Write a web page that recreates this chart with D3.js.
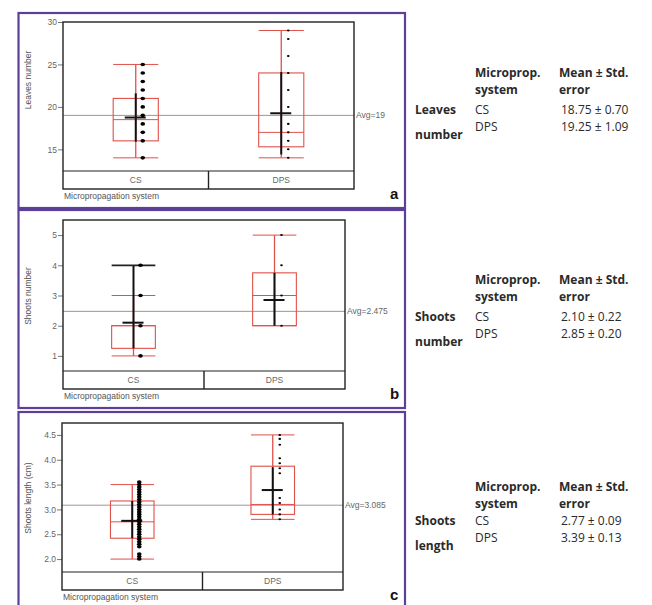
<!DOCTYPE html>
<html>
<head>
<meta charset="utf-8">
<script src="https://cdn.jsdelivr.net/npm/d3@7"></script>
<style>
  body { margin: 0; background: #fff; }
  svg { display: block; }
</style>
</head>
<body>
<svg id="chart" width="652" height="605"></svg>
<script>
// categories
const groups = ['CS', 'DPS'];

// a: leaves number
const leavesTicks = [15, 20, 25, 30];
const leavesMin = [14, 14];
const leavesQ1 = [16, 15.3];
const leavesMedian = [18.5, 17];
const leavesQ3 = [21, 24];
const leavesMax = [25, 29];
const leavesMean = [18.75, 19.25];
const leavesSdLow = [15.9, 14.4];
const leavesSdHigh = [21.6, 24.1];
const leavesDotsCS = [25, 24, 23, 22, 21, 20, 19, 18, 17, 16, 14];
const leavesDotsDPS = [29, 28, 26, 24, 22, 20, 18, 17, 16, 15, 14];
const leavesAvg = 19;

// b: shoots number
const shootsTicks = [1, 2, 3, 4, 5];
const shootsMin = [1, 2];
const shootsQ1 = [1.25, 2];
const shootsMedian = [2, 3];
const shootsQ3 = [2, 3.75];
const shootsMax = [3, 5];
const shootsMean = [2.1, 2.85];
const shootsSdLow = [1.25, 2];
const shootsSdHigh = [4, 3.75];
const shootsExtraCaps = [[4], []];
const shootsDotsCS = [4, 3, 2, 1];
const shootsDotsDPS = [5, 4, 3, 2];
const shootsAvg = 2.475;

// c: shoots length
const lengthTicks = [2.0, 2.5, 3.0, 3.5, 4.0, 4.5];
const lengthMin = [2.0, 2.8];
const lengthQ1 = [2.42, 2.9];
const lengthMedian = [2.75, 3.1];
const lengthQ3 = [3.17, 3.87];
const lengthMax = [3.5, 4.5];
const lengthMean = [2.77, 3.39];
const lengthSdLow = [2.42, 2.9];
const lengthSdHigh = [3.17, 3.85];
const lengthDotsCS = [3.55, 3.5, 3.45, 3.4, 3.35, 3.3, 3.25, 3.2, 3.15, 3.1, 3.05, 3.0, 2.95, 2.9, 2.85, 2.8, 2.75, 2.7, 2.65, 2.6, 2.55, 2.5, 2.45, 2.4, 2.35, 2.3, 2.25, 2.1, 2.05, 2.0];
const lengthDotsDPS = [4.5, 4.42, 4.3, 4.03, 3.93, 3.83, 3.73, 3.23, 3.13, 3.0, 2.9, 2.8];
const lengthAvg = 3.085;

// tables
const tableTraits = [['Leaves', 'number'], ['Shoots', 'number'], ['Shoots', 'length']];
const tableMeans = [[18.75, 19.25], [2.10, 2.85], [2.77, 3.39]];
const tableSE = [[0.70, 1.09], [0.22, 0.20], [0.09, 0.13]];

const svg = d3.select('#chart');
svg.append('rect').attr('width', 652).attr('height', 605).attr('fill', '#fff');

const panels = [
  {
    label: 'a', ylab: 'Leaves number', ticks: leavesTicks, fmt: d3.format('d'), domain: [12.45, 30],
    min: leavesMin, q1: leavesQ1, med: leavesMedian, q3: leavesQ3, max: leavesMax, mean: leavesMean,
    sdLow: leavesSdLow, sdHigh: leavesSdHigh, extra: [[], []], dots: [leavesDotsCS, leavesDotsDPS],
    avg: leavesAvg, avgText: 'Avg=19',
    frame: [18.5, 13, 405, 208], plot: {l: 63, t: 22, r: 354, b: 171, bb: 189}, ylabY: 80
  },
  {
    label: 'b', ylab: 'Shoots number', ticks: shootsTicks, fmt: d3.format('d'), domain: [0.5, 5.5],
    min: shootsMin, q1: shootsQ1, med: shootsMedian, q3: shootsQ3, max: shootsMax, mean: shootsMean,
    sdLow: shootsSdLow, sdHigh: shootsSdHigh, extra: shootsExtraCaps, dots: [shootsDotsCS, shootsDotsDPS],
    avg: shootsAvg, avgText: 'Avg=2.475',
    frame: [18.5, 210, 405, 408], plot: {l: 63, t: 220, r: 345, b: 371, bb: 389}, ylabY: 296
  },
  {
    label: 'c', ylab: 'Shoots length (cm)', ticks: lengthTicks, fmt: d3.format('.1f'), domain: [1.74, 4.74],
    min: lengthMin, q1: lengthQ1, med: lengthMedian, q3: lengthQ3, max: lengthMax, mean: lengthMean,
    sdLow: lengthSdLow, sdHigh: lengthSdHigh, extra: [[], []], dots: [lengthDotsCS, lengthDotsDPS],
    avg: lengthAvg, avgText: 'Avg=3.085',
    frame: [18.5, 412, 405, 612], plot: {l: 62, t: 423, r: 343, b: 572, bb: 590}, ylabY: 498
  }
];

const purple = '#5b3f98';
const red = '#e0504a';
const dotR = [2.1, 1.2];
const sans = 'Liberation Sans, Arial, sans-serif';

panels.forEach(p => {
  const g = svg.append('g');
  const [fx0, fy0, fx1, fy1] = p.frame;
  g.append('rect').attr('x', fx0).attr('y', fy0).attr('width', fx1 - fx0).attr('height', fy1 - fy0)
    .attr('fill', 'none').attr('stroke', purple).attr('stroke-width', 2.2);

  const pl = p.plot;
  const x = d3.scaleBand().domain(groups).range([pl.l, pl.r]);
  const y = d3.scaleLinear().domain(p.domain).range([pl.b, pl.t]);
  const bw = x.bandwidth();
  const cx = gname => x(gname) + bw / 2;
  const boxW = bw * 0.31;

  // y axis
  const yAxis = d3.axisLeft(y).tickValues(p.ticks).tickFormat(p.fmt).tickSize(5).tickSizeOuter(0);
  const ax = g.append('g').attr('transform', `translate(${pl.l},0)`).call(yAxis);
  ax.select('.domain').remove();
  ax.selectAll('.tick line').attr('stroke', '#777');
  ax.selectAll('.tick text').attr('fill', '#666').attr('font-size', 8.5)
    .attr('font-family', sans).attr('x', -6);

  g.append('text').attr('transform', `translate(31,${p.ylabY}) rotate(-90)`)
    .attr('text-anchor', 'middle').attr('font-size', 8.5).attr('fill', '#555')
    .attr('font-family', sans).text(p.ylab);

  // avg line
  g.append('line').attr('x1', pl.l).attr('x2', pl.r).attr('y1', y(p.avg)).attr('y2', y(p.avg))
    .attr('stroke', '#a89090').attr('stroke-width', 1);
  g.append('text').attr('x', pl.r + 2).attr('y', y(p.avg) + 3).attr('font-size', 8.5).attr('fill', '#666')
    .attr('font-family', sans).text(p.avgText);

  groups.forEach((gname, i) => {
    const c = cx(gname);
    // whisker
    g.append('line').attr('x1', c).attr('x2', c).attr('y1', y(p.min[i])).attr('y2', y(p.max[i]))
      .attr('stroke', red).attr('stroke-width', 1.3);
    [p.min[i], p.max[i]].forEach(v => {
      g.append('line').attr('x1', c - boxW / 2).attr('x2', c + boxW / 2).attr('y1', y(v)).attr('y2', y(v))
        .attr('stroke', red).attr('stroke-width', 1);
    });
    // box
    g.append('rect').attr('x', c - boxW / 2).attr('y', y(p.q3[i])).attr('width', boxW)
      .attr('height', y(p.q1[i]) - y(p.q3[i])).attr('fill', 'none').attr('stroke', red).attr('stroke-width', 1.1);
    g.append('line').attr('x1', c - boxW / 2).attr('x2', c + boxW / 2).attr('y1', y(p.med[i])).attr('y2', y(p.med[i]))
      .attr('stroke', red).attr('stroke-width', 1);
    // mean +- sd
    g.append('line').attr('x1', c).attr('x2', c).attr('y1', y(p.sdLow[i])).attr('y2', y(p.sdHigh[i]))
      .attr('stroke', '#111').attr('stroke-width', 2);
    p.extra[i].forEach(v => {
      g.append('line').attr('x1', c - boxW / 2).attr('x2', c + boxW / 2).attr('y1', y(v)).attr('y2', y(v))
        .attr('stroke', '#222').attr('stroke-width', 1.8);
    });
    g.append('line').attr('x1', c - 11).attr('x2', c + 10).attr('y1', y(p.mean[i])).attr('y2', y(p.mean[i]))
      .attr('stroke', '#111').attr('stroke-width', 2);
    // points
    g.selectAll(null).data(p.dots[i]).enter().append('ellipse')
      .attr('cx', c + 7).attr('cy', d => y(d)).attr('rx', dotR[i] * 1.1).attr('ry', dotR[i] * 0.85)
      .attr('fill', '#000');
  });

  // plot frame and category band
  g.append('rect').attr('x', pl.l).attr('y', pl.t).attr('width', pl.r - pl.l).attr('height', pl.bb - pl.t)
    .attr('fill', 'none').attr('stroke', '#222').attr('stroke-width', 1.4);
  g.append('line').attr('x1', pl.l).attr('x2', pl.r).attr('y1', pl.b).attr('y2', pl.b)
    .attr('stroke', '#222').attr('stroke-width', 1.2);
  g.append('line').attr('x1', x('DPS')).attr('x2', x('DPS')).attr('y1', pl.b).attr('y2', pl.bb)
    .attr('stroke', '#222').attr('stroke-width', 1.4);
  groups.forEach(gname => {
    g.append('text').attr('x', cx(gname)).attr('y', (pl.b + pl.bb) / 2 + 3).attr('text-anchor', 'middle')
      .attr('font-size', 8.5).attr('fill', '#666').attr('font-family', sans)
      .text(gname);
  });
  g.append('text').attr('x', pl.l + 1).attr('y', pl.bb + 10).attr('font-size', 8.5).attr('fill', '#555')
    .attr('font-family', sans).text('Micropropagation system');
  g.append('text').attr('x', 390).attr('y', pl.bb + 10).attr('font-size', 15).attr('font-weight', 'bold')
    .attr('fill', '#111').attr('font-family', sans).text(p.label);
});

// tables
const tableTop = [77, 284, 491];
const rowOffset = [37, 37, 34];
const fmt2 = d3.format('.2f');
tableTop.forEach((t, k) => {
  const tg = svg.append('g').attr('font-family', 'Open Sans, sans-serif').attr('font-size', 12).attr('fill', '#2a2a2a');
  const txt = (xx, yy, s, bold) => tg.append('text').attr('x', xx).attr('y', yy)
    .attr('font-weight', bold ? 'bold' : 'normal').text(s);
  const r0 = t + rowOffset[k];
  txt(475, t, 'Microprop.', true);
  txt(559, t, 'Mean ± Std.', true);
  txt(475, t + 17, 'system', true);
  txt(559, t + 17, 'error', true);
  txt(415, r0, tableTraits[k][0], true);
  txt(415, r0 + 25, tableTraits[k][1], true);
  groups.forEach((gname, i) => {
    txt(475, r0 + i * 17, gname, false);
    txt(561, r0 + i * 17, `${fmt2(tableMeans[k][i])} ± ${fmt2(tableSE[k][i])}`, false);
  });
});
</script>
</body>
</html>
